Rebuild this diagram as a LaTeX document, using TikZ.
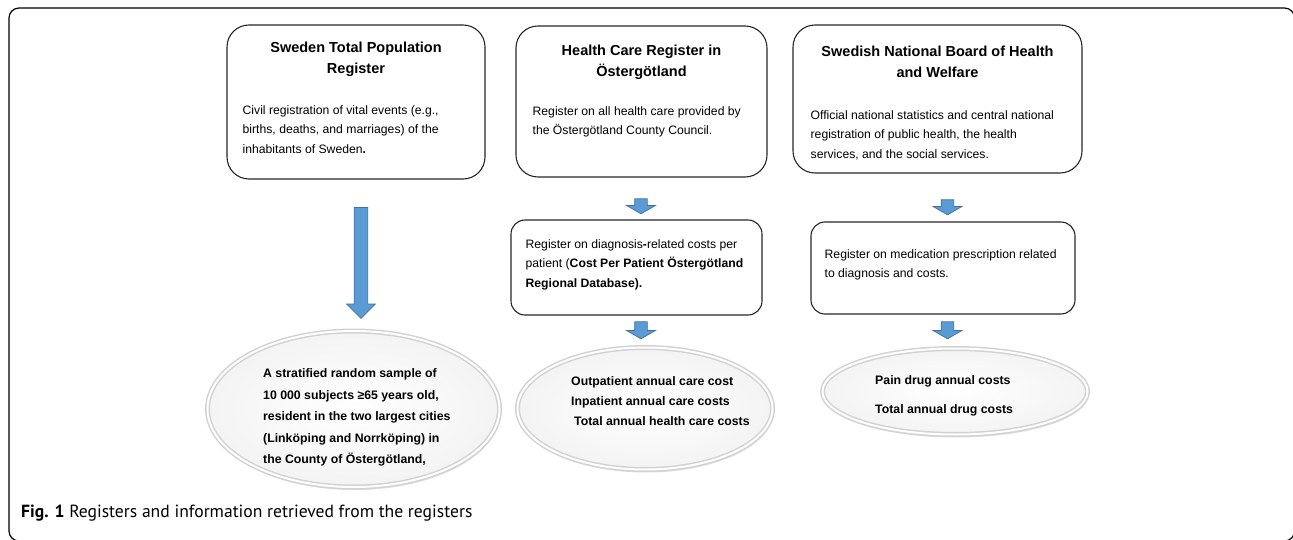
\documentclass[tikz,border=0pt]{standalone}
\usepackage{fontspec}
\setmainfont{Liberation Sans}
\newfontfamily\capfont{PT Sans}
\usetikzlibrary{
    positioning,      % Relative positioning
    shapes.geometric, % Ellipses
    shapes.arrows,    % Block arrows
    shadows           % Drop shadows
}
\definecolor{arrowfill}{HTML}{5B9BD5}
\definecolor{arrowline}{HTML}{41719C}
\tikzset{
    regbox/.style={draw=black!85, line width=1.1pt, rounded corners=22pt},
    costbox/.style={draw=black!85, line width=1.1pt, rounded corners=14pt},
    headtxt/.style={font=\bfseries\fontsize{14.5}{21}\selectfont, align=center, inner sep=0pt},
    bodytxt/.style={font=\fontsize{12.2}{19.5}\selectfont, align=left, anchor=north west, inner sep=0pt},
    outtxt/.style={font=\bfseries\fontsize{12.3}{21.5}\selectfont, align=left, anchor=west, inner sep=0pt},
    blockarrow/.style={single arrow, shape border rotate=270, fill=arrowfill, draw=arrowline,
        line width=0.7pt, inner xsep=6pt, inner ysep=0pt, minimum width=28pt, single arrow head extend=8pt},
    outcome/.style={ellipse, draw=gray!35, line width=1.5pt, double=white, double distance=2pt,
        inner color=white, outer color=gray!9, inner sep=0pt,
        drop shadow={opacity=0.25, shadow xshift=1pt, shadow yshift=-3pt}}
}

\begin{document}
\begin{tikzpicture}[x=1pt,y=-1pt]
    \useasboundingbox (0,0) rectangle (1293,540);
    \clip (0,0) rectangle (1293,540);
    % outer frame
    \draw[line width=1.2pt, rounded corners=10pt] (9,8) rectangle (1294.5,541);

    % registers
    \node[regbox, minimum width=258pt, minimum height=154pt] (pop) at (356,102) {};
    \node[regbox, minimum width=251pt, minimum height=151pt] (hcr) at (641.5,101.5) {};
    \node[regbox, minimum width=289pt, minimum height=148pt] (sos) at (937.5,99) {};
    \node[headtxt, below=17pt of pop.north] (pophead) {Sweden Total Population\\Register};
    \node[headtxt, below=19pt of hcr.north] (hcrhead) {Health Care Register in\\Östergötland};
    \node[headtxt, below=21pt of sos.north] (soshead) {Swedish National Board of Health\\and Welfare};
    \node[bodytxt] (popbody) at ([xshift=16pt,yshift=-81pt]pop.north west)
        {Civil registration of vital events (e.g.,\\births, deaths, and marriages) of the\\inhabitants of Sweden\textbf{.}};
    \node[bodytxt] (hcrbody) at ([xshift=17pt,yshift=-81pt]hcr.north west)
        {Register on all health care provided by\\the Östergötland County Council.};
    \node[bodytxt] (sosbody) at ([xshift=18pt,yshift=-86pt]sos.north west)
        {Official national statistics and central national\\registration of public health, the health\\services, and the social services.};

    % cost registers
    \node[costbox, minimum width=251pt, minimum height=95pt] (cpp) at (636.5,267.5) {};
    \node[costbox, minimum width=264pt, minimum height=92pt] (med) at (943,268) {};
    \node[bodytxt] (cppbody) at ([xshift=15pt,yshift=-20pt]cpp.north west)
        {Register on diagnosis\textbf{-}related costs per\\patient (\textbf{Cost Per Patient Östergötland}\\\textbf{Regional Database).}};
    \node[bodytxt] (medbody) at ([xshift=14pt,yshift=-28pt]med.north west)
        {Register on medication prescription related\\to diagnosis and costs.};

    % arrows
    \node[blockarrow, minimum height=111pt, inner xsep=6.5pt, single arrow head extend=7.5pt] (arrpop) at (361,259.5) {};
    \node[blockarrow, minimum height=15pt, single arrow tip angle=120] (arrhcr) at (641,204.5) {};
    \node[blockarrow, minimum height=17pt, single arrow tip angle=120] (arrcpp) at (641,328.5) {};
    \node[blockarrow, minimum height=15pt, single arrow tip angle=120] (arrsos) at (947.5,205.5) {};
    \node[blockarrow, minimum height=17pt, single arrow tip angle=120] (arrmed) at (947.5,328.5) {};

    % outcomes
    \node[outcome, minimum width=292pt, minimum height=156pt] (sample) at (353.5,409) {};
    \node[outcome, minimum width=255pt, minimum height=122pt] (carecost) at (645,408.5) {};
    \node[outcome, minimum width=265pt, minimum height=86pt] (drugcost) at (955,391.5) {};
    \node[outtxt] (sampletxt) at ([xshift=-90.5pt,yshift=-8.5pt]sample.center)
        {A stratified random sample of\\10 000 subjects ≥65 years old,\\resident in the two largest cities\\(Linköping and Norrköping) in\\the County of Östergötland,};
    \node[outtxt, font=\bfseries\fontsize{12.3}{20}\selectfont] (caretxt) at ([xshift=-74pt,yshift=7pt]carecost.center)
        {Outpatient annual care cost\\Inpatient annual care costs\\\hspace{3pt}Total annual health care costs};
    \node[outtxt, font=\bfseries\fontsize{12.3}{29}\selectfont] (drugtxt) at ([xshift=-80pt,yshift=-4.5pt]drugcost.center)
        {Pain drug annual costs\\Total annual drug costs};

    % caption
    \node[anchor=west, inner sep=0pt, font=\capfont\fontsize{17.6}{20}\selectfont] (caption) at (21,513)
        {\textbf{Fig. 1} Registers and information retrieved from the registers};
\end{tikzpicture}
\end{document}
